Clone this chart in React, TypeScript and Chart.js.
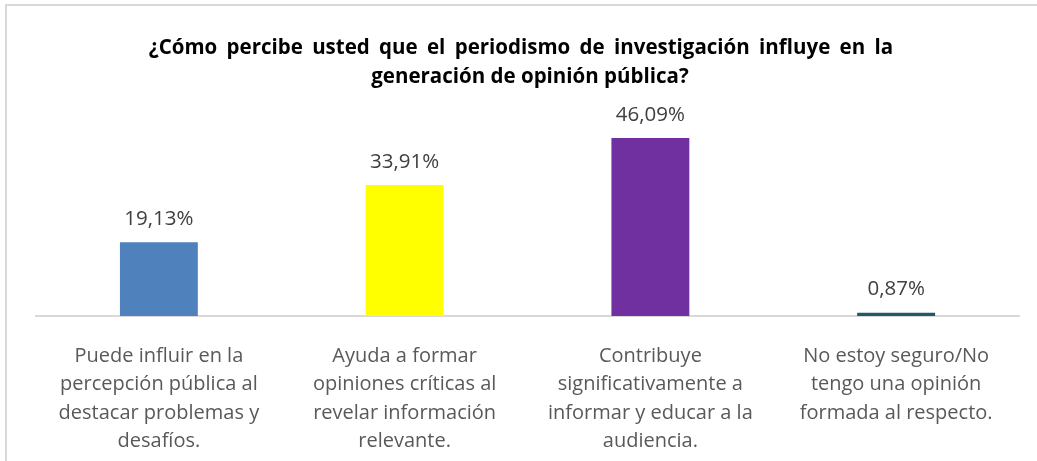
import React, { useEffect, useRef } from "react";
import { Chart, registerables } from "chart.js";

Chart.register(...registerables);

const titleLines = [
  "¿Cómo percibe usted que el periodismo de investigación influye en la",
  "generación de opinión pública?",
];
const categories = [
  ["Puede influir en la", "percepción pública al", "destacar problemas y", "desafíos."],
  ["Ayuda a formar", "opiniones críticas al", "revelar información", "relevante."],
  ["Contribuye", "significativamente a", "informar y educar a la", "audiencia."],
  ["No estoy seguro/No", "tengo una opinión", "formada al respecto."],
];
const values = [19.13, 33.91, 46.09, 0.87];
const barColors = ["#4F81BD", "#FFFF00", "#7030A0", "#215968"];
const yMax = 50;

const FONT = "'Open Sans', Lato, sans-serif";

export default function App() {
  const ref = useRef<HTMLCanvasElement | null>(null);
  useEffect(() => {
    if (!ref.current) return;
    const decor = {
      id: "decor",
      beforeDraw(chart: any) {
        const ctx = chart.ctx;
        ctx.save();
        ctx.fillStyle = "#ffffff";
        ctx.fillRect(0, 0, chart.width, chart.height);
        ctx.strokeStyle = "#d9d9d9";
        ctx.lineWidth = 2;
        ctx.beginPath();
        ctx.moveTo(6, chart.height + 5);
        ctx.lineTo(6, 5);
        ctx.lineTo(chart.width + 5, 5);
        ctx.stroke();
        ctx.restore();
      },
      afterDraw(chart: any) {
        const ctx = chart.ctx;
        ctx.save();
        ctx.fillStyle = "#000000";
        ctx.font = `bold 20.5px ${FONT}`;
        ctx.textAlign = "center";
        ctx.textBaseline = "middle";
        (ctx as any).wordSpacing = "4px";
        ctx.fillText(titleLines[0], 521, 48);
        (ctx as any).wordSpacing = "0px";
        ctx.fillText(titleLines[1], 530, 77);
        ctx.restore();
      },
      afterDatasetsDraw(chart: any) {
        const ctx = chart.ctx;
        const meta = chart.getDatasetMeta(0);
        ctx.save();
        ctx.fillStyle = "#404040";
        ctx.font = `20.5px ${FONT}`;
        ctx.textAlign = "center";
        ctx.textBaseline = "middle";
        meta.data.forEach((el: any, i: number) => {
          ctx.fillText(values[i].toFixed(2).replace(".", ",") + "%", el.x, el.y - 23);
        });
        ctx.restore();
      },
    };
    const chart = new Chart(ref.current, {
      type: "bar",
      data: {
        labels: categories as any,
        datasets: [
          {
            data: values,
            backgroundColor: barColors,
            barPercentage: 0.317,
            categoryPercentage: 1,
          },
        ],
      },
      options: {
        animation: false,
        responsive: false,
        layout: { padding: { left: 36, right: 18, top: 123, bottom: 0 } },
        plugins: { legend: { display: false }, title: { display: false }, tooltip: { enabled: false } },
        scales: {
          x: {
            grid: { display: false, drawTicks: false },
            border: { display: true, color: "#d9d9d9", width: 2 },
            ticks: {
              color: "#595959",
              font: { family: FONT, size: 20, lineHeight: 1.42 },
              padding: 26,
              maxRotation: 0,
              autoSkip: false,
            },
            afterFit(scale: any) {
              scale.height = 145;
            },
          },
          y: {
            display: false,
            min: 0,
            max: yMax,
          },
        },
      },
      plugins: [decor],
    });
    return () => chart.destroy();
  }, []);
  return (
    <div style={{ position: "absolute", left: 0, top: 0, width: 1037, height: 461 }}>
      <canvas ref={ref} width={1037} height={461} />
    </div>
  );
}
